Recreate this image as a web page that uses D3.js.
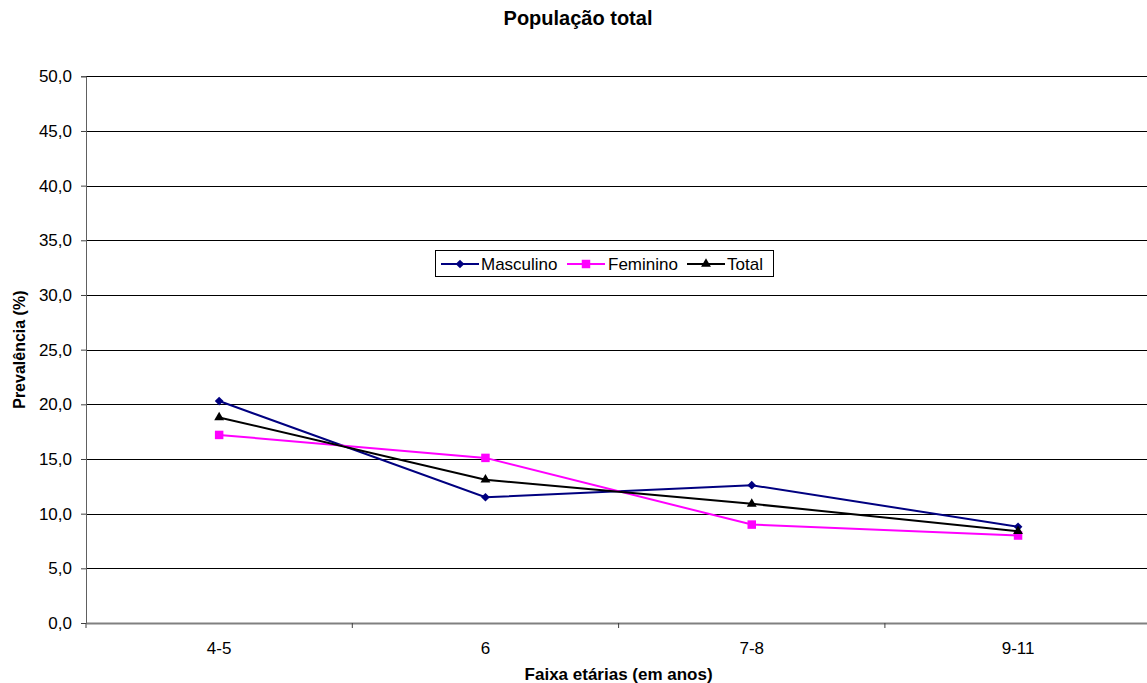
<!DOCTYPE html>
<html>
<head>
<meta charset="utf-8">
<script src="https://cdn.jsdelivr.net/npm/d3@7"></script>
<style>
  html, body { margin: 0; padding: 0; background: #fff; }
  svg { display: block; font-family: Arial, "Liberation Sans", sans-serif; }
</style>
</head>
<body>
<svg id="chart" width="1147" height="683"></svg>
<script>
const categories = ["4-5", "6", "7-8", "9-11"];
const masculino = [20.3, 11.5, 12.6, 8.8];
const feminino  = [17.2, 15.1, 9.0, 8.0];
const total     = [18.8, 13.1, 10.9, 8.4];
const yTicks = [0, 5, 10, 15, 20, 25, 30, 35, 40, 45, 50];
const seriesNames = ["Masculino", "Feminino", "Total"];

(function () {
const series = [
  { name: seriesNames[0], values: masculino, color: "#000080", symbol: d3.symbolSquare, size: 38, rot: 45 },
  { name: seriesNames[1], values: feminino,  color: "#FF00FF", symbol: d3.symbolSquare,  size: 72, rot: 0 },
  { name: seriesNames[2], values: total,     color: "#000000", symbol: d3.symbolTriangle, size: 42, rot: 0 }
];

const svg = d3.select("#chart");
const pL = 86, pR = 1151.2, pT = 76.3, pB = 623;

const x = d3.scaleBand().domain(categories).range([pL, pR]).padding(0);
const y = d3.scaleLinear().domain([0, 50]).range([pB, pT]);
const fmt = v => d3.format(".1f")(v).replace(".", ",");

// Title
svg.append("text").attr("x", 578).attr("y", 25).attr("text-anchor", "middle")
  .attr("font-weight", "bold").attr("font-size", 20).text("População total");

// Gridlines
svg.append("g").selectAll("line").data(yTicks.filter(t => t > 0)).join("line")
  .attr("x1", pL).attr("x2", pR)
  .attr("y1", d => Math.round(y(d)) + 0.5).attr("y2", d => Math.round(y(d)) + 0.5)
  .attr("stroke", "#000").attr("stroke-width", 1);

// Y axis
const yAxis = svg.append("g").attr("transform", `translate(${pL},0)`)
  .call(d3.axisLeft(y).tickValues(yTicks).tickFormat(fmt).tickSize(5).tickPadding(9));
yAxis.select(".domain").attr("stroke", "#606060").attr("stroke-width", 1);
yAxis.selectAll(".tick line").attr("stroke", "#404040");
yAxis.selectAll(".tick text").attr("font-size", 17).attr("font-family", "Arial, 'Liberation Sans', sans-serif").attr("fill", "#000");

// X axis
const xAxis = svg.append("g").attr("transform", `translate(0,${pB})`)
  .call(d3.axisBottom(x).tickSize(0).tickPadding(19));
xAxis.select(".domain").attr("stroke", "#808080").attr("stroke-width", 2);
xAxis.selectAll(".tick text").attr("font-size", 17).attr("font-family", "Arial, 'Liberation Sans', sans-serif").attr("fill", "#000");
// boundary tick marks between categories
const bounds = categories.map(c => x(c)).concat([x(categories[categories.length - 1]) + x.bandwidth()]);
svg.append("g").selectAll("line").data(bounds).join("line")
  .attr("x1", d => d).attr("x2", d => d).attr("y1", pB).attr("y2", pB + 5)
  .attr("stroke", "#404040").attr("stroke-width", 1);

// Axis titles
svg.append("text").attr("x", (pL + pR) / 2).attr("y", 680).attr("text-anchor", "middle")
  .attr("font-weight", "bold").attr("font-size", 17).text("Faixa etárias (em anos)");
svg.append("text").attr("transform", `translate(25,${(pT + pB) / 2}) rotate(-90)`)
  .attr("text-anchor", "middle").attr("font-weight", "bold").attr("font-size", 16)
  .text("Prevalência (%)");

// Lines & markers
const cx = c => x(c) + x.bandwidth() / 2;
const line = d3.line().x((d, i) => cx(categories[i])).y(d => y(d));
series.forEach(s => {
  svg.append("path").datum(s.values).attr("d", line)
    .attr("fill", "none").attr("stroke", s.color).attr("stroke-width", 2);
  svg.append("g").selectAll("path").data(s.values).join("path")
    .attr("transform", (d, i) => `translate(${cx(categories[i])},${y(d)}) rotate(${s.rot})`)
    .attr("d", d3.symbol().type(s.symbol).size(s.size))
    .attr("fill", s.color);
});

// Legend
const lg = svg.append("g");
lg.append("rect").attr("x", 435.5).attr("y", 250.5).attr("width", 338).attr("height", 26)
  .attr("fill", "#fff").attr("stroke", "#000").attr("stroke-width", 1);
const legendPos = [{ lx: 441, tx: 481 }, { lx: 567, tx: 608 }, { lx: 687, tx: 727 }];
series.forEach((s, i) => {
  const p = legendPos[i];
  const ly = 264;
  lg.append("line").attr("x1", p.lx).attr("x2", p.lx + 38).attr("y1", ly).attr("y2", ly)
    .attr("stroke", s.color).attr("stroke-width", 2);
  lg.append("path").attr("transform", `translate(${p.lx + 19},${ly}) rotate(${s.rot})`)
    .attr("d", d3.symbol().type(s.symbol).size(s.size)).attr("fill", s.color);
  lg.append("text").attr("x", p.tx).attr("y", ly + 6).attr("font-size", 17).text(s.name);
});
})();
</script>
</body>
</html>
